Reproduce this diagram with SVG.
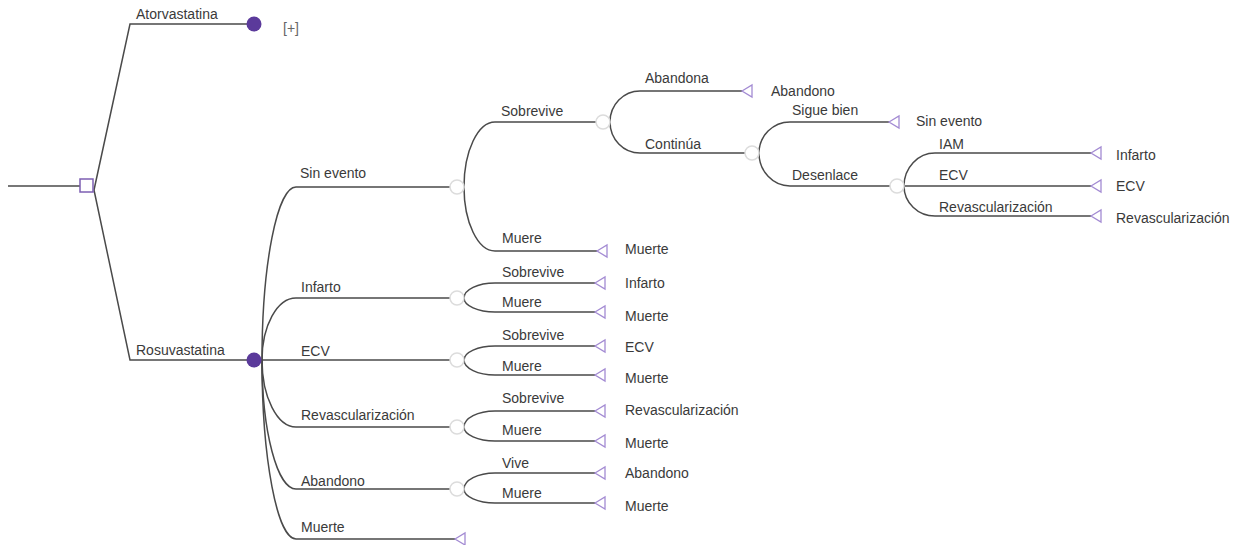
<svg xmlns="http://www.w3.org/2000/svg" width="1243" height="545" viewBox="0 0 1243 545">
<style>
text{font-family:"Liberation Sans",Arial,sans-serif;font-size:14px;fill:#3a3a3a}
.plus{fill:#666}
.ln{fill:none;stroke:#4a4a4a;stroke-width:1.5}
.dec{fill:#fff;stroke:#7d5fb3;stroke-width:1.5}
.cf{fill:#5b3a9b}
.ch{fill:#fff;stroke:#dcdcdc;stroke-width:1.5}
.tm{fill:#fff;stroke:#a38bd3;stroke-width:1.3}
</style>
<defs>
<polygon id="tri" points="0,0 10,-6 10,6"/>
</defs>
<g id="connectors">
<path class="ln" d="M8 186 L80 186"/>
<path class="ln" d="M94 190 L130 24 L247 24"/>
<path class="ln" d="M94 190 L130 360 L247 360"/>
<path class="ln" d="M262 360 A34 173 0 0 1 296 187 L450 187"/>
<path class="ln" d="M262 360 A34 62 0 0 1 296 298 L450 298"/>
<path class="ln" d="M261 360 L450 360"/>
<path class="ln" d="M262 360 A34 67 0 0 0 296 427 L450 427"/>
<path class="ln" d="M262 360 A34 129 0 0 0 296 489 L450 489"/>
<path class="ln" d="M262 360 A34 179 0 0 0 296 539 L455 539"/>
<path class="ln" d="M464 187 A31 65 0 0 1 495 122 L596 122"/>
<path class="ln" d="M464 187 A31 64 0 0 0 495 251 L597 251"/>
<path class="ln" d="M610 122 A30 31 0 0 1 640 91 L742 91"/>
<path class="ln" d="M610 122 A30 31 0 0 0 640 153 L745 153"/>
<path class="ln" d="M759 153 A31 31 0 0 1 790 122 L889 122"/>
<path class="ln" d="M759 153 A31 33 0 0 0 790 186 L890 186"/>
<path class="ln" d="M904 186 A31 33 0 0 1 935 153 L1091 153"/>
<path class="ln" d="M904 186 L1091 186"/>
<path class="ln" d="M904 186 A31 30 0 0 0 935 216 L1091 216"/>
<path class="ln" d="M464 298 A31 15 0 0 1 495 283 L595 283"/>
<path class="ln" d="M464 298 A31 14 0 0 0 495 312 L595 312"/>
<path class="ln" d="M464 360 A31 14 0 0 1 495 346 L595 346"/>
<path class="ln" d="M464 360 A31 15 0 0 0 495 375 L595 375"/>
<path class="ln" d="M464 427 A31 16 0 0 1 495 411 L595 411"/>
<path class="ln" d="M464 427 A31 14 0 0 0 495 441 L595 441"/>
<path class="ln" d="M464 489 A31 16 0 0 1 495 473 L595 473"/>
<path class="ln" d="M464 489 A31 14 0 0 0 495 503 L595 503"/>
</g>
<g id="root"><rect class="dec" x="80" y="179" width="13" height="13"/></g>
<g id="atorvastatina"><circle class="cf" cx="254" cy="24" r="7.5"/><text x="136" y="19">Atorvastatina</text><text class="plus" x="283" y="33">[+]</text></g>
<g id="rosuvastatina"><circle class="cf" cx="254" cy="360" r="7.5"/><text x="136" y="355">Rosuvastatina</text></g>
<g id="sin-evento"><circle class="ch" cx="457" cy="187" r="7"/><text x="300" y="178">Sin evento</text></g>
<g id="se-sobrevive"><circle class="ch" cx="603" cy="122" r="7"/><text x="501" y="116">Sobrevive</text></g>
<g id="se-abandona"><use href="#tri" class="tm" x="742" y="91"/><text x="645" y="83">Abandona</text><text x="771" y="96">Abandono</text></g>
<g id="se-continua"><circle class="ch" cx="752" cy="153" r="7"/><text x="645" y="149">Continúa</text></g>
<g id="se-sigue"><use href="#tri" class="tm" x="889" y="122"/><text x="792" y="115">Sigue bien</text><text x="916" y="126">Sin evento</text></g>
<g id="se-desenlace"><circle class="ch" cx="897" cy="186" r="7"/><text x="792" y="180">Desenlace</text></g>
<g id="se-iam"><use href="#tri" class="tm" x="1091" y="153"/><text x="939" y="149">IAM</text><text x="1116" y="160">Infarto</text></g>
<g id="se-ecv"><use href="#tri" class="tm" x="1091" y="186"/><text x="939" y="180">ECV</text><text x="1116" y="191">ECV</text></g>
<g id="se-revasc"><use href="#tri" class="tm" x="1091" y="216"/><text x="939" y="212">Revascularización</text><text x="1116" y="223">Revascularización</text></g>
<g id="se-muere"><use href="#tri" class="tm" x="597" y="251"/><text x="502" y="243">Muere</text><text x="625" y="254">Muerte</text></g>
<g id="infarto"><circle class="ch" cx="457" cy="298" r="7"/><text x="301" y="292">Infarto</text></g>
<g id="inf-sobrevive"><use href="#tri" class="tm" x="595" y="283"/><text x="502" y="277">Sobrevive</text><text x="625" y="288">Infarto</text></g>
<g id="inf-muere"><use href="#tri" class="tm" x="595" y="312"/><text x="502" y="307">Muere</text><text x="625" y="321">Muerte</text></g>
<g id="ecv"><circle class="ch" cx="457" cy="360" r="7"/><text x="301" y="356">ECV</text></g>
<g id="ecv-sobrevive"><use href="#tri" class="tm" x="595" y="346"/><text x="502" y="340">Sobrevive</text><text x="625" y="352">ECV</text></g>
<g id="ecv-muere"><use href="#tri" class="tm" x="595" y="375"/><text x="502" y="371">Muere</text><text x="625" y="383">Muerte</text></g>
<g id="revasc"><circle class="ch" cx="457" cy="427" r="7"/><text x="301" y="420">Revascularización</text></g>
<g id="rev-sobrevive"><use href="#tri" class="tm" x="595" y="411"/><text x="502" y="403">Sobrevive</text><text x="625" y="415">Revascularización</text></g>
<g id="rev-muere"><use href="#tri" class="tm" x="595" y="441"/><text x="502" y="435">Muere</text><text x="625" y="448">Muerte</text></g>
<g id="abandono"><circle class="ch" cx="457" cy="489" r="7"/><text x="301" y="486">Abandono</text></g>
<g id="ab-vive"><use href="#tri" class="tm" x="595" y="473"/><text x="502" y="468">Vive</text><text x="625" y="478">Abandono</text></g>
<g id="ab-muere"><use href="#tri" class="tm" x="595" y="503"/><text x="502" y="498">Muere</text><text x="625" y="511">Muerte</text></g>
<g id="muerte"><use href="#tri" class="tm" x="455" y="539"/><text x="301" y="532">Muerte</text></g>
</svg>
